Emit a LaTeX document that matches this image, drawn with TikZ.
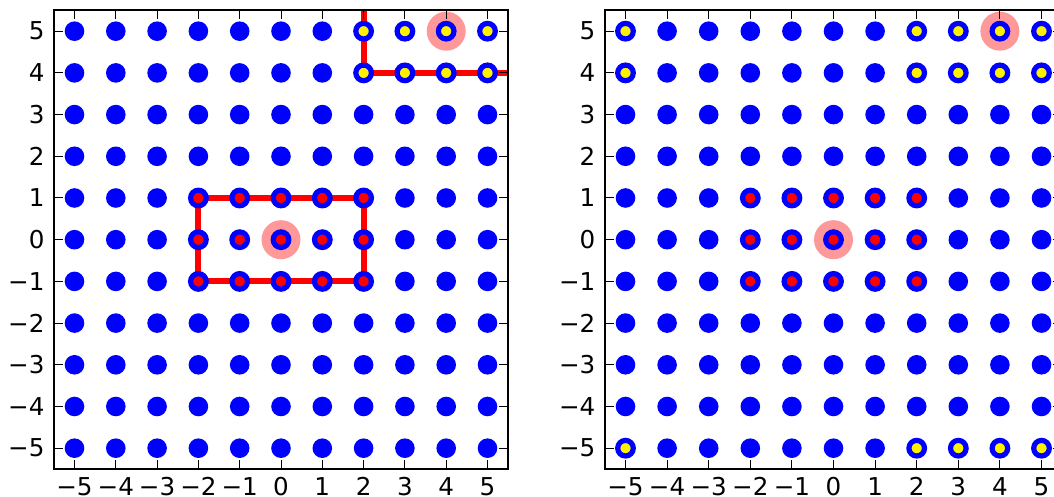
\documentclass[tikz,border=0pt]{standalone}
\usepackage{fontspec}
\setmainfont{DejaVu Sans}
\newcommand{\tickval}[1]{\ifnum#1<0 −\number-#1\else#1\fi}
\begin{document}
\begin{tikzpicture}[
  x=0.5pt,
  y=0.5pt,
  site/.style={fill=blue},
  inside/.style={fill=red, draw=blue, line width=2.6pt},
  corner/.style={fill=yellow, draw=blue, line width=2.6pt},
  halo/.style={fill=red!40},
  walk/.style={draw=red, line width=3pt},
  frame/.style={draw=black, line width=1pt},
  tickmark/.style={draw=black, line width=0.5pt},
  ticklabel/.style={font=\fontsize{12.3}{15}\selectfont, inner sep=0pt}
]
\useasboundingbox (0,0) rectangle (1054,497);
\clip (0,0) rectangle (1054,497);
% left panel
\begin{scope}[shift={(140.5pt,128.65pt)}, x=20.65pt, y=20.85pt]
\fill[halo] (0,0) circle[radius=9.75pt];
\fill[halo] (4,5) circle[radius=9.75pt];
\draw[walk] (-2,-1) rectangle (2,1);
\draw[walk] (2,5.5) -- (2,4) -- (5.5,4);
\foreach \i in {-5,...,5} {
  \foreach \j in {-5,...,5} {
    \fill[site] (\i,\j) circle[radius=4.9pt];
  }
}
\foreach \i in {-2,...,2} {
  \foreach \j in {-1,0,1} {
    \filldraw[inside] (\i,\j) circle[radius=3.9pt];
  }
}
\foreach \i/\j in {2/5,3/5,4/5,5/5,2/4,3/4,4/4,5/4} {
  \filldraw[corner] (\i,\j) circle[radius=3.9pt];
}
\draw[frame] (-5.5,-5.5) rectangle (5.5,5.5);
\foreach \k in {-5,...,5} {
  \draw[tickmark] (\k,-5.5) -- ++(0,4.5pt);
  \draw[tickmark] (\k,5.5) -- ++(0,-4.5pt);
  \draw[tickmark] (-5.5,\k) -- ++(4.5pt,0);
  \draw[tickmark] (5.5,\k) -- ++(-4.5pt,0);
  \node[ticklabel, anchor=north, yshift=-4pt] (lx\k) at (\k,-5.5) {\tickval{\k}};
  \node[ticklabel, anchor=east, xshift=-4.5pt] (ly\k) at (-5.5,\k) {\tickval{\k}};
}
\end{scope}
% right panel
\begin{scope}[shift={(416.75pt,128.65pt)}, x=20.8pt, y=20.85pt]
\fill[halo] (0,0) circle[radius=9.75pt];
\fill[halo] (4,5) circle[radius=9.75pt];
\foreach \i in {-5,...,5} {
  \foreach \j in {-5,...,5} {
    \fill[site] (\i,\j) circle[radius=4.9pt];
  }
}
\foreach \i in {-2,...,2} {
  \foreach \j in {-1,0,1} {
    \filldraw[inside] (\i,\j) circle[radius=3.9pt];
  }
}
\foreach \i/\j in {-5/5,-5/4,-5/-5,2/5,3/5,4/5,5/5,2/4,3/4,4/4,5/4,2/-5,3/-5,4/-5,5/-5} {
  \filldraw[corner] (\i,\j) circle[radius=3.9pt];
}
\draw[frame] (-5.5,-5.5) rectangle (5.5,5.5);
\foreach \k in {-5,...,5} {
  \draw[tickmark] (\k,-5.5) -- ++(0,4.5pt);
  \draw[tickmark] (\k,5.5) -- ++(0,-4.5pt);
  \draw[tickmark] (-5.5,\k) -- ++(4.5pt,0);
  \draw[tickmark] (5.5,\k) -- ++(-4.5pt,0);
  \node[ticklabel, anchor=north, yshift=-4pt] (rx\k) at (\k,-5.5) {\tickval{\k}};
  \node[ticklabel, anchor=east, xshift=-4.5pt] (ry\k) at (-5.5,\k) {\tickval{\k}};
}
\end{scope}
\end{tikzpicture}
\end{document}
